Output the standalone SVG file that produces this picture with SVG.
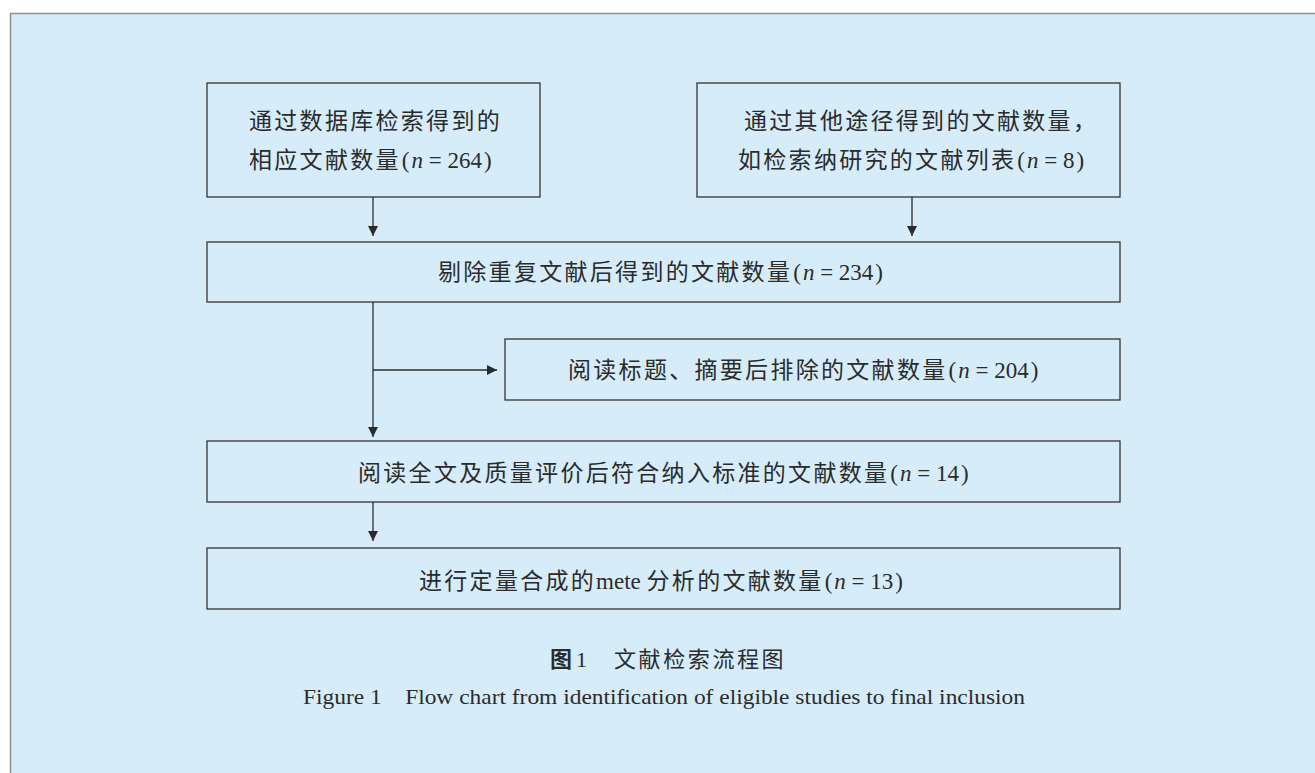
<svg xmlns="http://www.w3.org/2000/svg" width="1315" height="773" viewBox="0 0 1315 773">
<defs>
<style>
.box{fill:none;stroke:#333;stroke-width:1.3}
.cn{font-family:"Noto Sans CJK SC","Noto Sans CJK JP",sans-serif;font-size:23px;fill:#2b2b2b;letter-spacing:2.3px}
.la{font-family:"Liberation Serif",serif;font-size:23px;letter-spacing:0}
.it{font-style:italic}
.conn{stroke:#2b2b2b;stroke-width:1.3;fill:none}
</style>
<marker id="ah" markerUnits="userSpaceOnUse" markerWidth="10" markerHeight="10" refX="10" refY="5" orient="auto">
<path d="M0,0 L10,5 L0,10 z" fill="#2b2b2b"/>
</marker>
</defs>
<rect x="0" y="0" width="1315" height="773" fill="#ffffff"/>
<rect x="10.5" y="13.5" width="1320" height="780" fill="#d6edf9" stroke="#8f8f8f" stroke-width="1.5"/>

<g id="n1">
<rect class="box" x="207" y="83" width="333" height="114"/>
<text class="cn" x="249" y="129">通过数据库检索得到的</text>
<text class="cn" x="249" y="168">相应文献数量<tspan class="la" dx="1">(</tspan><tspan class="la it" dx="2">n</tspan><tspan class="la"> = 264</tspan><tspan class="la" dx="2">)</tspan></text>
</g>

<g id="n2">
<rect class="box" x="697" y="83" width="423" height="114"/>
<text class="cn" x="744" y="129">通过其他途径得到的文献数量，</text>
<text class="cn" x="738" y="168">如检索纳研究的文献列表<tspan class="la" dx="1">(</tspan><tspan class="la it" dx="2">n</tspan><tspan class="la"> = 8</tspan><tspan class="la" dx="2">)</tspan></text>
</g>

<g id="n3">
<rect class="box" x="207" y="242" width="913" height="60"/>
<text class="cn" x="438" y="280">剔除重复文献后得到的文献数量<tspan class="la" dx="1">(</tspan><tspan class="la it" dx="2">n</tspan><tspan class="la"> = 234</tspan><tspan class="la" dx="2">)</tspan></text>
</g>

<g id="n4">
<rect class="box" x="505" y="339" width="615" height="61"/>
<text class="cn" x="568" y="378">阅读标题、摘要后排除的文献数量<tspan class="la" dx="1">(</tspan><tspan class="la it" dx="2">n</tspan><tspan class="la"> = 204</tspan><tspan class="la" dx="2">)</tspan></text>
</g>

<g id="n5">
<rect class="box" x="207" y="441" width="913" height="61"/>
<text class="cn" x="358" y="481">阅读全文及质量评价后符合纳入标准的文献数量<tspan class="la" dx="1">(</tspan><tspan class="la it" dx="2">n</tspan><tspan class="la"> = 14</tspan><tspan class="la" dx="2">)</tspan></text>
</g>

<g id="n6">
<rect class="box" x="207" y="548" width="913" height="61"/>
<text class="cn" x="419" y="589">进行定量合成的<tspan class="la">mete </tspan>分析的文献数量<tspan class="la" dx="1">(</tspan><tspan class="la it" dx="2">n</tspan><tspan class="la"> = 13</tspan><tspan class="la" dx="2">)</tspan></text>
</g>

<g id="connectors">
<path class="conn" d="M373,197 V236" marker-end="url(#ah)"/>
<path class="conn" d="M912,197 V236" marker-end="url(#ah)"/>
<path class="conn" d="M373,302 V437" marker-end="url(#ah)"/>
<path class="conn" d="M373,370 H497" marker-end="url(#ah)"/>
<path class="conn" d="M373,502 V541" marker-end="url(#ah)"/>
</g>

<g id="caption">
<text x="550" y="667" font-family="Noto Sans CJK SC, sans-serif" font-size="22" fill="#2b2b2b"><tspan font-weight="bold">图</tspan><tspan font-family="Liberation Serif, serif" dx="4">1</tspan></text>
<text x="614" y="667" font-family="Noto Sans CJK SC, sans-serif" font-size="22" fill="#2b2b2b" letter-spacing="2.6">文献检索流程图</text>
<text x="303" y="704" font-family="Liberation Serif, serif" font-size="21" fill="#2b2b2b" textLength="722" lengthAdjust="spacingAndGlyphs" xml:space="preserve">Figure 1    Flow chart from identification of eligible studies to final inclusion</text>
</g>
</svg>
